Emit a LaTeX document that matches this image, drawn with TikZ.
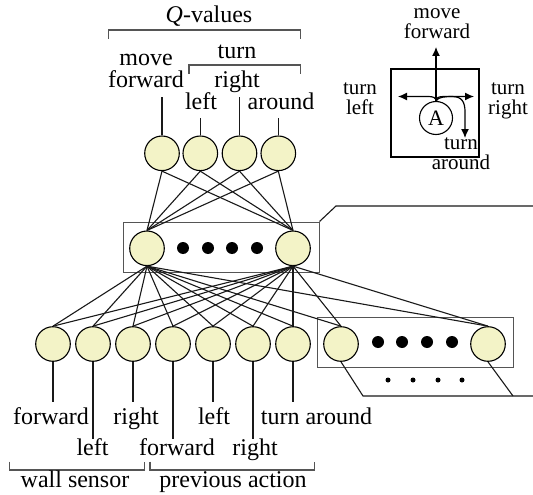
\documentclass[tikz,border=0pt]{standalone}
\usepackage{fontspec}
\setmainfont{Liberation Serif}
\usetikzlibrary{arrows.meta}
\definecolor{nfill}{RGB}{243,243,199}
\definecolor{boxgray}{RGB}{85,85,85}
\newcommand\mystack[2]{\begin{tabular}[b]{@{}c@{}}#1\\#2\end{tabular}}
\begin{document}
\begin{tikzpicture}[x=1pt,y=-1pt,
 neuron/.style={circle,draw=black,fill=nfill,line width=1.1pt,minimum size=34.6pt,inner sep=0pt},
 conn/.style={line width=1.1pt,draw=black!90},
 lbl/.style={font=\fontsize{24}{20}\selectfont,inner sep=0pt,anchor=base},
 slbl/.style={font=\fontsize{21}{18.5}\selectfont,inner sep=0pt,anchor=base},
 grp/.style={draw=boxgray,line width=1pt,rectangle,inner sep=0pt,minimum width=196pt,minimum height=50pt},
 brk/.style={draw=boxgray,line width=1.1pt},
 arr/.style={line width=1.2pt,-{Latex[length=9pt,width=8pt]}},
 bigdot/.style={circle,fill=black,inner sep=0pt,minimum size=12pt},
 smalldot/.style={circle,fill=black,inner sep=0pt,minimum size=5pt},
]
\useasboundingbox (0,0) rectangle (533,495);

% group boxes
\node[grp] (hbox) at (221,247) {};
\node[grp] (ibox) at (415,342) {};

% callouts
\coordinate (c1) at (336,206);
\coordinate (c1e) at (533,206);
\draw[conn] (hbox.north east) -- (c1) -- (c1e);

% output layer
\foreach \n/\x in {1/162,2/200.3,3/239.5,4/278.3}
  \node[neuron] (q\n) at (\x,153.3) {};

% hidden layer
\node[neuron] (h1) at (147,248.3) {};
\node[neuron] (h2) at (293,248.3) {};
\foreach \n/\x in {1/183,2/208,3/232,4/257}
  \node[bigdot] (hd\n) at (\x,248) {};

% input layer
\foreach \n/\x in {1/53,2/93,3/133,4/173,5/213,6/253,7/293,8/341,9/488}
  \node[neuron] (i\n) at (\x,344) {};
\foreach \n/\x in {1/378,2/402,3/427,4/452}
  \node[bigdot] (id\n) at (\x,342) {};
\foreach \n/\x in {1/388,2/413,3/438,4/462}
  \node[smalldot] (sd\n) at (\x,380) {};

% lower callout
\coordinate (c2a) at (363,396);
\coordinate (c2b) at (513,396);
\coordinate (c2e) at (533,396);
\draw[conn] (i8.south) -- (c2a) -- (c2e);
\draw[conn] (i9.south) -- (c2b);

% connections
\foreach \q in {1,2,3,4}
  \foreach \h in {1,2}
    \draw[conn] (q\q.south) -- (h\h.north);
\foreach \h in {1,2}
  \foreach \i in {1,...,9}
    \draw[conn] (h\h.south) -- (i\i.north);

% top labels
\draw[brk] (108.3,39) -- (108.3,30) -- (300.7,30) -- (300.7,39);
\node[lbl] (qv) at (209,22.7) {\textit{Q}-values};
\draw[brk] (189,74) -- (189,65) -- (300.7,65) -- (300.7,74);
\node[lbl] (tturn) at (237,59) {turn};
\node[lbl] (tmove) at (146,88) {\mystack{move}{forward}};
\node[lbl] (tleft) at (201,110) {left};
\node[lbl] (tright) at (237,88) {right};
\node[lbl] (taround) at (281,110) {around};
\draw[conn] (q1.north) -- (q1.north |- 0,97);
\draw[conn] (q2.north) -- (q2.north |- 0,118);
\draw[conn] (q3.north) -- (q3.north |- 0,97);
\draw[conn] (q4.north) -- (q4.north |- 0,118);

% bottom labels
\draw[conn] (i1.south) -- (i1.south |- 0,402);
\draw[conn] (i2.south) -- (i2.south |- 0,439);
\draw[conn] (i3.south) -- (i3.south |- 0,402);
\draw[conn] (i4.south) -- (i4.south |- 0,439);
\draw[conn] (i5.south) -- (i5.south |- 0,402);
\draw[conn] (i6.south) -- (i6.south |- 0,439);
\draw[conn] (i7.south) -- (i7.south |- 0,402);
\node[lbl] (bfwd) at (51,424) {forward};
\node[lbl] (bleft) at (92.5,455) {left};
\node[lbl] (bright) at (136,424) {right};
\node[lbl] (pfwd) at (177,455) {forward};
\node[lbl] (pleft) at (214,424) {left};
\node[lbl] (pright) at (255,455) {right};
\node[lbl] (paround) at (316.5,424) {turn around};
\draw[brk] (9.5,461.5) -- (9.5,470) -- (144.5,470) -- (144.5,461.5);
\draw[brk] (150,461.5) -- (150,470) -- (314.5,470) -- (314.5,461.5);
\node[lbl] (ws) at (75,487) {wall sensor};
\node[lbl] (pa) at (233,487) {previous action};

% inset
\node[draw=black,line width=1.1pt,rectangle,inner sep=0pt,minimum width=88pt,minimum height=88pt] (ibx) at (435,113) {};
\node[circle,draw=black,line width=1.1pt,minimum size=33pt,inner sep=0pt,font=\fontsize{22}{22}\selectfont] (A) at (436,118) {A};
\coordinate (aup) at (436,47);
\coordinate (alft) at (398,96.5);
\coordinate (argt) at (474,96.5);
\coordinate (adwn) at (465,138);
\draw[arr] (A.north) -- (aup);
\draw[arr] (A.north) .. controls (436,97.5) and (433,96.5) .. (428,96.5) -- (alft);
\draw[arr] (A.north) .. controls (436,97.5) and (439,96.5) .. (444,96.5) -- (argt);
\draw[arr] (A.north) .. controls (438,97) and (445,96.5) .. (452,96.5) .. controls (462,96.5) and (465,102) .. (465,112) -- (adwn);
\node[slbl,font=\fontsize{21}{18}\selectfont] (imove) at (437,38.5) {\mystack{move}{forward}};
\node[slbl] (iturnl) at (360,114.5) {\mystack{turn}{left}};
\node[slbl] (iturnr) at (508,114.5) {\mystack{turn}{right}};
\node[slbl,font=\fontsize{21}{16.5}\selectfont] (iturna) at (461,169) {\mystack{turn}{around}};
\end{tikzpicture}
\end{document}
